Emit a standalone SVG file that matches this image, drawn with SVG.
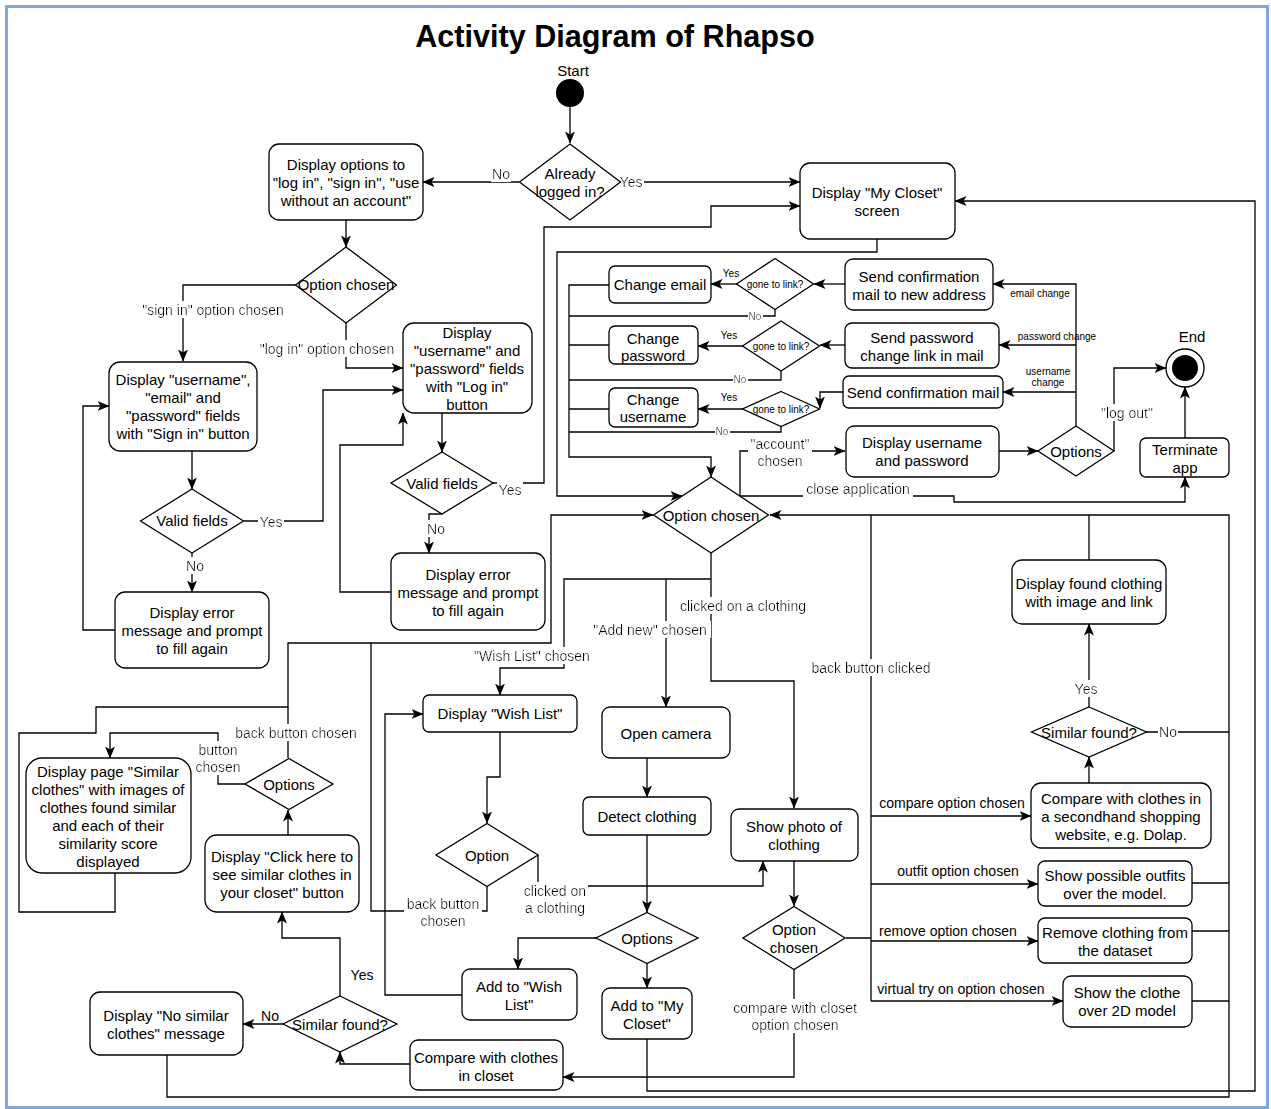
<svg xmlns="http://www.w3.org/2000/svg" width="1271" height="1109" viewBox="0 0 1271 1109">
<defs>
  <style>
    .n{fill:#fff;stroke:#000;stroke-width:1.3}
    .e{fill:none;stroke:#000;stroke-width:1.3}
    .a{marker-end:url(#arr)}
    text{font-family:"Liberation Sans",Arial,sans-serif;font-size:15px;text-anchor:middle;fill:#000}
    .l{font-size:14px}
    .s{font-size:10px}
    .title{font-size:30.6px;font-weight:bold}
  </style>
  <marker id="arr" viewBox="0 0 12 10" refX="11.5" refY="5" markerWidth="12" markerHeight="10" markerUnits="userSpaceOnUse" orient="auto">
    <path d="M0,0 L12,5 L0,10 L3,5 Z" fill="#000"/>
  </marker>
  <filter id="bg" x="-0.03" y="0" width="1.06" height="1">
    <feFlood flood-color="#fff"/>
    <feComposite in="SourceGraphic" operator="over"/>
  </filter>
</defs>

<rect x="0" y="0" width="1271" height="1109" fill="#fff"/>
<rect x="6.5" y="6.5" width="1261" height="1101" fill="#fff" stroke="#7ea6e0" stroke-width="3"/>

<text class="title" x="615" y="36" dy="0.35em">Activity Diagram of Rhapso</text>

<!-- connectors -->
<g id="connectors">
  <path class="e a" d="M570,107 V143"/>
  <path class="e a" d="M519,182 H423"/>
  <path class="e a" d="M620,182 H800"/>
  <path class="e a" d="M346,220 V247"/>
  <path class="e a" d="M296,285 H183 V361"/>
  <path class="e a" d="M346,323 V368 H403"/>
  <path class="e a" d="M192,451 V489"/>
  <path class="e a" d="M244,521 H323 V390 H403"/>
  <path class="e a" d="M192,553 V592"/>
  <path class="e a" d="M115,630 H83 V406 H109"/>
  <path class="e a" d="M442,413 V452"/>
  <path class="e a" d="M493,483 H544 V227 H711 V206 H800"/>
  <path class="e a" d="M442,514 H429 V553"/>
  <path class="e a" d="M391,592 H340 V445 H403 V413"/>
  <path class="e a" d="M877,239 V252 H557 V496 H682"/>
  <path class="e a" d="M647,1039 V1091 H1255 V201 H955"/>

  <!-- account settings branch -->
  <path class="e a" d="M845,284 H814"/>
  <path class="e a" d="M737,284 H711"/>
  <path class="e" d="M775,310 V316 H569"/>
  <path class="e a" d="M845,345 H820"/>
  <path class="e a" d="M743,346 H698"/>
  <path class="e" d="M781,371 V380 H569"/>
  <path class="e a" d="M843,392 H820 V408"/>
  <path class="e a" d="M743,409 H698"/>
  <path class="e" d="M781,426 V432 H569"/>
  <path class="e a" d="M609,285 H569 V457 H711 V477"/>
  <path class="e" d="M609,345 H569 M609,409 H569"/>
  <path class="e a" d="M1076,426 V284 H993"/>
  <path class="e a" d="M1076,345 H999"/>
  <path class="e a" d="M1076,392 H1003"/>
  <path class="e a" d="M999,451 H1038"/>
  <path class="e a" d="M1114,451 V368 H1166"/>
  <path class="e a" d="M1185,438 V387"/>
  <path class="e a" d="M740,496 V451 H845"/>
  <path class="e a" d="M740,496 H954 V502 H1185 V477"/>

  <!-- main option branches -->
  <path class="e a" d="M711,553 V681 H794 V808"/>
  <path class="e a" d="M711,579 H564 V668 H500 V695"/>
  <path class="e a" d="M666,579 V707"/>
  <path class="e a" d="M167,1055 V1097 H1229 V515 H770"/>
  <path class="e" d="M1089,560 V515"/>
  <path class="e" d="M846,938 H871 M871,515 V1001"/>
  <path class="e a" d="M871,816 H1031"/>
  <path class="e a" d="M871,884 H1038"/>
  <path class="e a" d="M871,941 H1038"/>
  <path class="e a" d="M871,1001 H1063"/>
  <path class="e" d="M1192,883 H1229 M1192,931 H1229 M1192,1001 H1229 M1146,732 H1229"/>
  <path class="e a" d="M1089,707 V624"/>
  <path class="e a" d="M1089,783 V757"/>
  <path class="e a" d="M794,861 V906"/>
  <path class="e a" d="M794,969 V1077 H563"/>
  <path class="e a" d="M647,757 V797"/>
  <path class="e a" d="M647,835 V912"/>
  <path class="e a" d="M596,938 H518 V969"/>
  <path class="e a" d="M647,963 V988"/>
  <path class="e a" d="M500,732 V777 H487 V823"/>
  <path class="e a" d="M538,855 V886 H763 V861"/>
  <path class="e" d="M487,886 V911 H371 V643"/>
  <path class="e a" d="M462,995 H385 V714 H423"/>
  <path class="e a" d="M115,873 V912 H19 V733 H96 V707 H288 V643 H551 V515 H653"/>
  <path class="e" d="M288,758 V707"/>
  <path class="e a" d="M245,784 H218 V733 H110 V758"/>
  <path class="e a" d="M288,835 V810"/>
  <path class="e a" d="M340,996 V938 H282 V912"/>
  <path class="e a" d="M283,1024 H243"/>
  <path class="e a" d="M410,1064 H340 V1052"/>

  <!-- connector labels -->
  <text class="l" x="501" y="174" dy="0.35em" filter="url(#bg)">No</text>
  <text class="l" x="631" y="182" dy="0.35em" filter="url(#bg)">Yes</text>
  <text class="l" x="213" y="310" dy="0.35em" filter="url(#bg)">"sign in" option chosen</text>
  <text class="l" x="327" y="349" dy="0.35em" filter="url(#bg)">"log in" option chosen</text>
  <text class="l" x="271" y="522" dy="0.35em" filter="url(#bg)">Yes</text>
  <text class="l" x="195" y="566" dy="0.35em" filter="url(#bg)">No</text>
  <text class="l" x="510" y="490" dy="0.35em" filter="url(#bg)">Yes</text>
  <text class="l" x="436" y="529" dy="0.35em" filter="url(#bg)">No</text>
  <text class="s" x="731" y="273" dy="0.35em">Yes</text>
  <text class="s" x="755" y="316" dy="0.35em" filter="url(#bg)">No</text>
  <text class="s" x="729" y="335" dy="0.35em">Yes</text>
  <text class="s" x="740" y="379" dy="0.35em" filter="url(#bg)">No</text>
  <text class="s" x="729" y="397" dy="0.35em">Yes</text>
  <text class="s" x="722" y="431" dy="0.35em" filter="url(#bg)">No</text>
  <text class="s" x="1040" y="293" dy="0.35em">email change</text>
  <text class="s" x="1057" y="336" dy="0.35em">password change</text>
  <text class="s" x="1048" y="371" dy="0.35em">username</text>
  <text class="s" x="1048" y="382" dy="0.35em">change</text>
  <text class="l" x="1127" y="413" dy="0.35em" filter="url(#bg)">"log out"</text>
  <g filter="url(#bg)">
    <text class="l" x="780" y="444" dy="0.35em">"account"</text>
    <text class="l" x="780" y="461" dy="0.35em">chosen</text>
  </g>
  <text class="l" x="858" y="489" dy="0.35em" filter="url(#bg)">close application</text>
  <text class="l" x="743" y="606" dy="0.35em" filter="url(#bg)">clicked on a clothing</text>
  <text class="l" x="650" y="630" dy="0.35em" filter="url(#bg)">"Add new" chosen</text>
  <text class="l" x="532" y="656" dy="0.35em" filter="url(#bg)">"Wish List" chosen</text>
  <text class="l" x="871" y="668" dy="0.35em" filter="url(#bg)">back button clicked</text>
  <text class="l" x="1086" y="689" dy="0.35em" filter="url(#bg)">Yes</text>
  <text class="l" x="1168" y="732" dy="0.35em" filter="url(#bg)">No</text>
  <text class="l" x="952" y="803" dy="0.35em">compare option chosen</text>
  <text class="l" x="958" y="871" dy="0.35em">outfit option chosen</text>
  <text class="l" x="948" y="931" dy="0.35em">remove option chosen</text>
  <text class="l" x="961" y="989" dy="0.35em">virtual try on option chosen</text>
  <g filter="url(#bg)">
    <text class="l" x="795" y="1008" dy="0.35em">compare with closet</text>
    <text class="l" x="795" y="1025" dy="0.35em">option chosen</text>
  </g>
  <g filter="url(#bg)">
    <text class="l" x="555" y="891" dy="0.35em">clicked on</text>
    <text class="l" x="555" y="908" dy="0.35em">a clothing</text>
  </g>
  <g filter="url(#bg)">
    <text class="l" x="443" y="904" dy="0.35em">back button</text>
    <text class="l" x="443" y="921" dy="0.35em">chosen</text>
  </g>
  <text class="l" x="296" y="733" dy="0.35em" filter="url(#bg)">back button chosen</text>
  <g filter="url(#bg)">
    <text class="l" x="218" y="750" dy="0.35em">button</text>
    <text class="l" x="218" y="767" dy="0.35em">chosen</text>
  </g>
  <text class="l" x="362" y="975" dy="0.35em">Yes</text>
  <text class="l" x="270" y="1016" dy="0.35em">No</text>
</g>

<!-- nodes -->
<g id="start">
  <circle cx="570" cy="93" r="14" fill="#000"/>
  <text x="573" y="71" dy="0.35em">Start</text>
</g>
<g id="already-logged-in">
  <polygon class="n" points="570,144 620.5,182 570,220 519.5,182"/>
  <text x="570" y="174" dy="0.35em">Already</text>
  <text x="570" y="192" dy="0.35em">logged in?</text>
</g>
<g id="login-options">
  <rect class="n" x="269" y="144" width="154" height="76" rx="10"/>
  <text x="346" y="165" dy="0.35em">Display options to</text>
  <text x="346" y="183" dy="0.35em">"log in", "sign in", "use</text>
  <text x="346" y="201" dy="0.35em">without an account"</text>
</g>
<g id="login-option-chosen">
  <polygon class="n" points="346,247 396.5,285 346,323 295.5,285"/>
  <text x="346" y="285" dy="0.35em">Option chosen</text>
</g>
<g id="sign-in-form">
  <rect class="n" x="109" y="362" width="148" height="89" rx="11"/>
  <text x="183" y="380" dy="0.35em">Display "username",</text>
  <text x="183" y="398" dy="0.35em">"email" and</text>
  <text x="183" y="416" dy="0.35em">"password" fields</text>
  <text x="183" y="434" dy="0.35em">with "Sign in" button</text>
</g>
<g id="sign-in-valid">
  <polygon class="n" points="192,489 243.5,521 192,553 140.5,521"/>
  <text x="192" y="521" dy="0.35em">Valid fields</text>
</g>
<g id="sign-in-error">
  <rect class="n" x="115" y="592" width="154" height="76" rx="10"/>
  <text x="192" y="613" dy="0.35em">Display error</text>
  <text x="192" y="631" dy="0.35em">message and prompt</text>
  <text x="192" y="649" dy="0.35em">to fill again</text>
</g>
<g id="log-in-form">
  <rect class="n" x="403" y="323" width="129" height="90" rx="11"/>
  <text x="467" y="333" dy="0.35em">Display</text>
  <text x="467" y="351" dy="0.35em">"username" and</text>
  <text x="467" y="369" dy="0.35em">"password" fields</text>
  <text x="467" y="387" dy="0.35em">with "Log in"</text>
  <text x="467" y="405" dy="0.35em">button</text>
</g>
<g id="log-in-valid">
  <polygon class="n" points="442,452 493,483 442,514 391,483"/>
  <text x="442" y="484" dy="0.35em">Valid fields</text>
</g>
<g id="log-in-error">
  <rect class="n" x="391" y="553" width="154" height="77" rx="10"/>
  <text x="468" y="575" dy="0.35em">Display error</text>
  <text x="468" y="593" dy="0.35em">message and prompt</text>
  <text x="468" y="611" dy="0.35em">to fill again</text>
</g>
<g id="my-closet">
  <rect class="n" x="800" y="163" width="155" height="76" rx="10"/>
  <text x="877" y="193" dy="0.35em">Display "My Closet"</text>
  <text x="877" y="211" dy="0.35em">screen</text>
</g>
<g id="send-email-confirmation">
  <rect class="n" x="845" y="259" width="148" height="51" rx="8"/>
  <text x="919" y="277" dy="0.35em">Send confirmation</text>
  <text x="919" y="295" dy="0.35em">mail to new address</text>
</g>
<g id="send-password-link">
  <rect class="n" x="845" y="323" width="154" height="45" rx="7"/>
  <text x="922" y="338" dy="0.35em">Send password</text>
  <text x="922" y="356" dy="0.35em">change link in mail</text>
</g>
<g id="send-confirmation-mail">
  <rect class="n" x="843" y="376" width="160" height="32" rx="6"/>
  <text x="923" y="393" dy="0.35em">Send confirmation mail</text>
</g>
<g id="gone-to-link-email">
  <polygon class="n" points="775,258.5 813.5,284 775,309.5 736.5,284"/>
  <text class="s" x="775" y="284" dy="0.35em">gone to link?</text>
</g>
<g id="gone-to-link-password">
  <polygon class="n" points="781,321 819.5,346 781,371 742.5,346"/>
  <text class="s" x="781" y="346" dy="0.35em">gone to link?</text>
</g>
<g id="gone-to-link-username">
  <polygon class="n" points="781,391.5 819.5,409 781,426.5 742.5,409"/>
  <text class="s" x="781" y="409" dy="0.35em">gone to link?</text>
</g>
<g id="change-email">
  <rect class="n" x="609" y="266" width="102" height="37" rx="6"/>
  <text x="660" y="285" dy="0.35em">Change email</text>
</g>
<g id="change-password">
  <rect class="n" x="609" y="326" width="89" height="38" rx="6"/>
  <text x="653" y="339" dy="0.35em">Change</text>
  <text x="653" y="356" dy="0.35em">password</text>
</g>
<g id="change-username">
  <rect class="n" x="609" y="388" width="89" height="39" rx="6"/>
  <text x="653" y="400" dy="0.35em">Change</text>
  <text x="653" y="417" dy="0.35em">username</text>
</g>
<g id="display-account">
  <rect class="n" x="846" y="426" width="153" height="51" rx="8"/>
  <text x="922" y="443" dy="0.35em">Display username</text>
  <text x="922" y="461" dy="0.35em">and password</text>
</g>
<g id="account-options">
  <polygon class="n" points="1076,426 1114,451 1076,476 1038,451"/>
  <text x="1076" y="452" dy="0.35em">Options</text>
</g>
<g id="end">
  <circle cx="1185" cy="368" r="19" fill="#fff" stroke="#000" stroke-width="1.3"/>
  <circle cx="1185" cy="368" r="13" fill="#000"/>
  <text x="1192" y="337" dy="0.35em">End</text>
</g>
<g id="terminate-app">
  <rect class="n" x="1140" y="438" width="89" height="39" rx="6"/>
  <text x="1185" y="450" dy="0.35em">Terminate</text>
  <text x="1185" y="468" dy="0.35em">app</text>
</g>
<g id="main-option-chosen">
  <polygon class="n" points="711,477 768.5,515 711,553 653.5,515"/>
  <text x="711" y="516" dy="0.35em">Option chosen</text>
</g>
<g id="found-clothing">
  <rect class="n" x="1012" y="560" width="154" height="64" rx="10"/>
  <text x="1089" y="584" dy="0.35em">Display found clothing</text>
  <text x="1089" y="602" dy="0.35em">with image and link</text>
</g>
<g id="similar-found-shop">
  <polygon class="n" points="1089,707 1146.5,732 1089,757 1031.5,732"/>
  <text x="1089" y="733" dy="0.35em">Similar found?</text>
</g>
<g id="compare-shop">
  <rect class="n" x="1031" y="783" width="180" height="65" rx="10"/>
  <text x="1121" y="799" dy="0.35em">Compare with clothes in</text>
  <text x="1121" y="817" dy="0.35em">a secondhand shopping</text>
  <text x="1121" y="835" dy="0.35em">website, e.g. Dolap.</text>
</g>
<g id="show-outfits">
  <rect class="n" x="1038" y="861" width="154" height="45" rx="7"/>
  <text x="1115" y="876" dy="0.35em">Show possible outfits</text>
  <text x="1115" y="894" dy="0.35em">over the model.</text>
</g>
<g id="remove-clothing">
  <rect class="n" x="1038" y="918" width="154" height="45" rx="7"/>
  <text x="1115" y="933" dy="0.35em">Remove clothing from</text>
  <text x="1115" y="951" dy="0.35em">the dataset</text>
</g>
<g id="virtual-try-on">
  <rect class="n" x="1063" y="976" width="129" height="51" rx="8"/>
  <text x="1127" y="993" dy="0.35em">Show the clothe</text>
  <text x="1127" y="1011" dy="0.35em">over 2D model</text>
</g>
<g id="show-photo">
  <rect class="n" x="731" y="809" width="127" height="52" rx="8"/>
  <text x="794" y="827" dy="0.35em">Show photo of</text>
  <text x="794" y="845" dy="0.35em">clothing</text>
</g>
<g id="clothing-option-chosen">
  <polygon class="n" points="794,906.5 845,938 794,969.5 743,938"/>
  <text x="794" y="930" dy="0.35em">Option</text>
  <text x="794" y="948" dy="0.35em">chosen</text>
</g>
<g id="open-camera">
  <rect class="n" x="602" y="707" width="128" height="51" rx="8"/>
  <text x="666" y="734" dy="0.35em">Open camera</text>
</g>
<g id="detect-clothing">
  <rect class="n" x="583" y="797" width="128" height="38" rx="6"/>
  <text x="647" y="817" dy="0.35em">Detect clothing</text>
</g>
<g id="add-new-options">
  <polygon class="n" points="647,912.5 698,938 647,963.5 596,938"/>
  <text x="647" y="939" dy="0.35em">Options</text>
</g>
<g id="add-to-wish-list">
  <rect class="n" x="462" y="969" width="115" height="51" rx="8"/>
  <text x="519" y="987" dy="0.35em">Add to "Wish</text>
  <text x="519" y="1005" dy="0.35em">List"</text>
</g>
<g id="add-to-my-closet">
  <rect class="n" x="602" y="988" width="90" height="51" rx="8"/>
  <text x="647" y="1006" dy="0.35em">Add to "My</text>
  <text x="647" y="1024" dy="0.35em">Closet"</text>
</g>
<g id="compare-closet">
  <rect class="n" x="410" y="1040" width="153" height="50" rx="8"/>
  <text x="486" y="1058" dy="0.35em">Compare with clothes</text>
  <text x="486" y="1076" dy="0.35em">in closet</text>
</g>
<g id="wish-list">
  <rect class="n" x="423" y="695" width="154" height="37" rx="6"/>
  <text x="500" y="714" dy="0.35em">Display "Wish List"</text>
</g>
<g id="wish-list-option">
  <polygon class="n" points="487,823.5 538,855 487,886.5 436,855"/>
  <text x="487" y="856" dy="0.35em">Option</text>
</g>
<g id="similar-page">
  <rect class="n" x="26" y="758" width="165" height="115" rx="16"/>
  <text x="108" y="772" dy="0.35em">Display page "Similar</text>
  <text x="108" y="790" dy="0.35em">clothes" with images of</text>
  <text x="108" y="808" dy="0.35em">clothes found similar</text>
  <text x="108" y="826" dy="0.35em">and each of their</text>
  <text x="108" y="844" dy="0.35em">similarity score</text>
  <text x="108" y="862" dy="0.35em">displayed</text>
</g>
<g id="similar-options">
  <polygon class="n" points="289,758.5 333,784 289,809.5 245,784"/>
  <text x="289" y="785" dy="0.35em">Options</text>
</g>
<g id="click-here-button">
  <rect class="n" x="205" y="835" width="154" height="77" rx="12"/>
  <text x="282" y="857" dy="0.35em">Display "Click here to</text>
  <text x="282" y="875" dy="0.35em">see similar clothes in</text>
  <text x="282" y="893" dy="0.35em">your closet" button</text>
</g>
<g id="similar-found-closet">
  <polygon class="n" points="340,996 397,1024 340,1052 283,1024"/>
  <text x="340" y="1025" dy="0.35em">Similar found?</text>
</g>
<g id="no-similar">
  <rect class="n" x="90" y="992" width="153" height="63" rx="10"/>
  <text x="166" y="1016" dy="0.35em">Display "No similar</text>
  <text x="166" y="1034" dy="0.35em">clothes" message</text>
</g>
</svg>
